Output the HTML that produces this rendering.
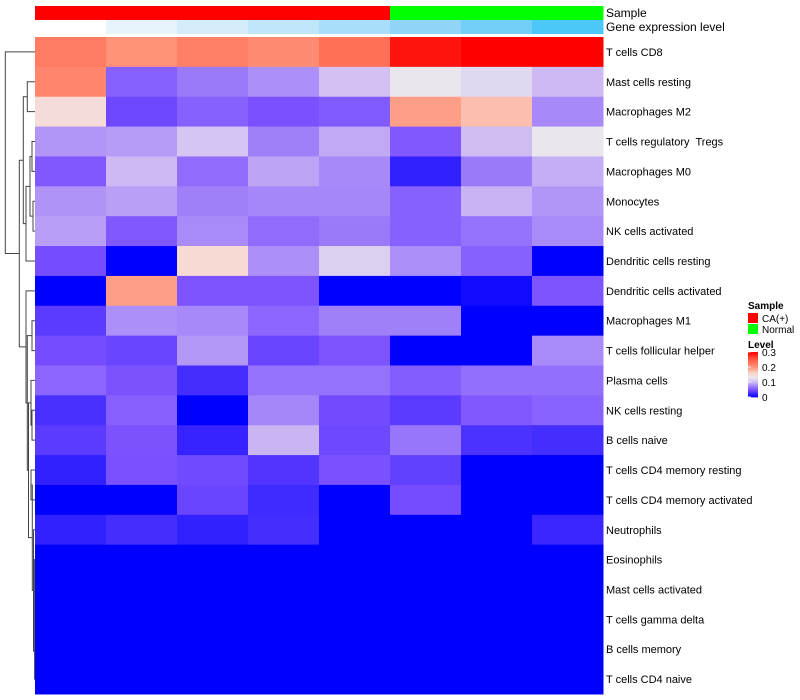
<!DOCTYPE html>
<html><head><meta charset="utf-8"><style>
html,body{margin:0;padding:0;background:#fff;}
svg{display:block;font-family:"Liberation Sans",sans-serif;}
#rowlabels text{white-space:pre;}
</style></head><body>
<svg id="chart" width="800" height="700" viewBox="0 0 800 700">
<g id="dendro"></g>
<g id="anno"></g>
<g id="cells"></g>
<g id="rowlabels"></g>
<g id="legend">
  <text x="748" y="309" font-size="10" font-weight="bold">Sample</text>
  <rect x="748" y="313" width="10" height="10" fill="#ff0000"/>
  <text x="762" y="322" font-size="10">CA(+)</text>
  <rect x="748" y="324" width="10" height="10" fill="#00ff00"/>
  <text x="762" y="333" font-size="10">Normal</text>
  <text x="748" y="348" font-size="10" font-weight="bold">Level</text>
  <g id="legbar"></g>
</g>
</svg>
<script>
const rowNames=["T cells CD8","Mast cells resting","Macrophages M2","T cells regulatory  Tregs","Macrophages M0","Monocytes","NK cells activated","Dendritic cells resting","Dendritic cells activated","Macrophages M1","T cells follicular helper","Plasma cells","NK cells resting","B cells naive","T cells CD4 memory resting","T cells CD4 memory activated","Neutrophils","Eosinophils","Mast cells activated","T cells gamma delta","B cells memory","T cells CD4 naive"];
const sampleGroups=["CA(+)","CA(+)","CA(+)","CA(+)","CA(+)","Normal","Normal","Normal"];
const geneLevels=[0,1,2,3,4,5,6,7];
const levelTicks=[0,0.1,0.2,0.3];
const values=[
[0.225,0.205,0.22,0.21,0.235,0.29,0.3,0.3],
[0.215,0.058,0.07,0.08,0.105,0.13,0.12,0.1],
[0.15,0.045,0.058,0.05,0.055,0.195,0.175,0.077],
[0.083,0.086,0.108,0.073,0.093,0.054,0.102,0.13],
[0.054,0.1,0.063,0.09,0.077,0.02,0.07,0.095],
[0.082,0.088,0.073,0.076,0.076,0.058,0.097,0.083],
[0.087,0.054,0.078,0.063,0.07,0.058,0.066,0.078],
[0.048,0,0.155,0.08,0.115,0.08,0.058,0],
[0,0.195,0.052,0.052,0,0,0.007,0.052],
[0.037,0.08,0.077,0.06,0.073,0.073,0,0],
[0.048,0.043,0.084,0.043,0.052,0,0,0.078],
[0.06,0.051,0.028,0.066,0.066,0.056,0.065,0.065],
[0.03,0.057,0,0.076,0.047,0.037,0.054,0.059],
[0.037,0.051,0.022,0.098,0.045,0.068,0.031,0.028],
[0.02,0.05,0.046,0.033,0.05,0.04,0,0],
[0,0,0.043,0.026,0,0.048,0,0],
[0.02,0.028,0.02,0.028,0,0,0,0.024],
[0,0,0,0,0,0,0,0],[0,0,0,0,0,0,0,0],[0,0,0,0,0,0,0,0],[0,0,0,0,0,0,0,0],[0,0,0,0,0,0,0,0]];
const NS="http://www.w3.org/2000/svg";
const X0=35,X1=603,Y0=37,Y1=694;
const nC=8,nR=rowNames.length,cw=(X1-X0)/nC,rh=(Y1-Y0)/nR;
const xs=c=>X0+c*cw, ys=r=>Y0+r*rh;
const stops=[[0,[0,0,255]],[0.05,[122,80,255]],[0.1,[205,185,243]],[0.13,[234,230,238]],[0.16,[250,215,205]],[0.2,[255,150,125]],[0.25,[255,95,70]],[0.3,[255,0,0]]];
function col(v){v=Math.max(0,Math.min(0.3,v));for(let i=1;i<stops.length;i++){if(v<=stops[i][0]){const a=stops[i-1],b=stops[i],t=(v-a[0])/(b[0]-a[0]);return"rgb("+a[1].map((x,k)=>Math.round(x+(b[1][k]-x)*t)).join(",")+")";}}return"rgb(255,0,0)";}
function mk(tag,at,parent){const e=document.createElementNS(NS,tag);for(const k in at)e.setAttribute(k,at[k]);parent.appendChild(e);return e;}
const cells=document.getElementById("cells");
values.forEach((row,r)=>row.forEach((v,c)=>{
 const e=mk("rect",{x:xs(c),y:ys(r),width:cw+0.5,height:rh+0.5,fill:col(v)},cells);
 
 
}));
const rl=document.getElementById("rowlabels");
rowNames.forEach((n,r)=>{
 const t=mk("text",{x:606,y:ys(r)+rh/2+4,"font-size":"11"},rl);t.textContent=n;
 
 
});
const anno=document.getElementById("anno");
const geneCols=["#ffffff","#e8f4fc","#d5ecfa","#c0e6fa","#a8defa","#90d5f8","#72d0f8","#4cc8f8"];
sampleGroups.forEach((g,c)=>{
 const e=mk("rect",{x:xs(c),y:6,width:cw+0.5,height:14,fill:g==="Normal"?"#00ff00":"#ff0000"},anno);
 
 
 const f=mk("rect",{x:xs(c),y:20,width:cw+0.5,height:14,fill:geneCols[geneLevels[c]]},anno);
 
 
});
let t1=mk("text",{x:606,y:17,"font-size":"12"},anno);t1.textContent="Sample";


let t2=mk("text",{x:606,y:31,"font-size":"12"},anno);t2.textContent="Gene expression level";


const lb=document.getElementById("legbar");
const LB0=397,LB1=352;
for(let i=0;i<45;i++){const v=0.3*(i+0.5)/45;const e=mk("rect",{x:748,y:LB0-(i+1)*(LB0-LB1)/45,width:10,height:(LB0-LB1)/45+0.4,fill:col(v)},lb);
 
 }
levelTicks.forEach(v=>{const y=LB0-(v/0.3)*(LB0-LB1);
 const l=mk("line",{x1:748,x2:751,y1:y,y2:y,stroke:"#fff","stroke-width":"0.8"},lb);
 
 
 const t=mk("text",{x:762,y:y+4,"font-size":"10"},lb);t.textContent=String(v);
 
 });
const L=i=>ys(i)+rh/2;
function node(a,b,x){return{a,b,x};}
const chain=(ids,x)=>ids.slice(1).reduce((acc,i)=>node(acc,i,x),ids[0]);
const m3456=node(node(3,4,32),node(5,6,33),30);
const A=node(node(1,2,27.3),node(m3456,7,26),23.3);
const R=chain([17,18,19,20,21],34.6);
const V=node(node(14,15,31),node(16,R,33.5),32.3);
const W=node(node(11,node(12,13,32),31),V,28.5);
const Z=node(node(9,10,32),W,27.3);
const Y=node(8,Z,26);
const root=node(0,node(A,Y,19.3),5.3);
const dg=document.getElementById("dendro");
let d="";
function draw(n){if(typeof n==="number")return{y:L(n),x:X0};
 const p=draw(n.a),q=draw(n.b);
 d+=`M${p.x},${p.y}H${n.x}V${q.y}H${q.x}`;
 return{y:(p.y+q.y)/2,x:n.x};}
draw(root);
const pe=mk("path",{d:d,fill:"none",stroke:"#444","stroke-width":"1"},dg);


</script>
</body></html>
